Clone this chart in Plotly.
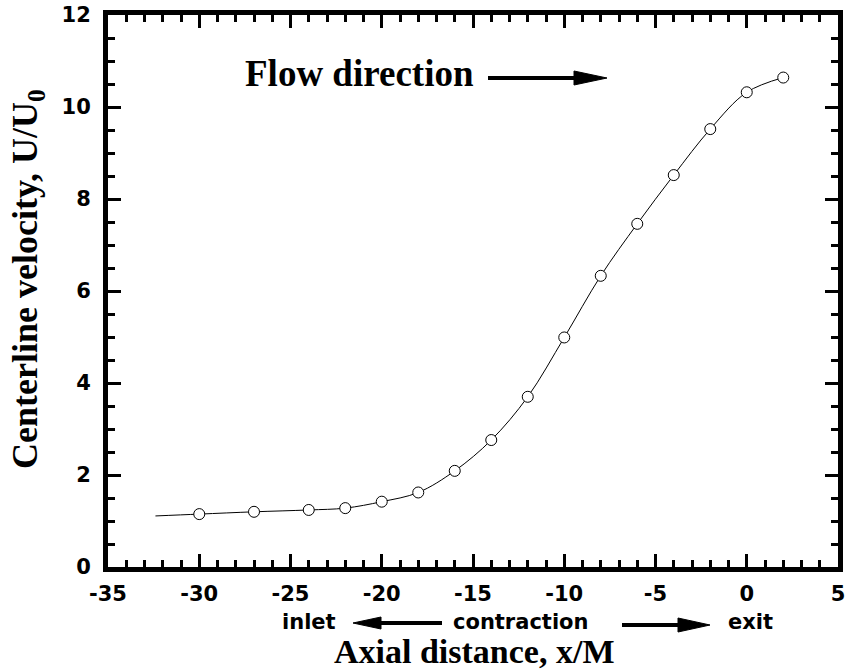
import plotly.graph_objects as go

# ---- data ----
x_meas = [-30, -27, -24, -22, -20, -18, -16, -14, -12, -10, -8, -6, -4, -2, 0, 2]
u_meas = [1.15, 1.20, 1.24, 1.28, 1.42, 1.62, 2.09, 2.76, 3.70, 4.99, 6.33, 7.46, 8.52, 9.52, 10.32, 10.64]
# smooth fitted curve (starts a little before the first measurement)
x_curve = [-32.4, -30, -27, -24, -22, -20, -18, -16, -14, -12, -10, -8, -6, -4, -2, 0, 2]
u_curve = [1.11, 1.15, 1.20, 1.24, 1.28, 1.42, 1.62, 2.09, 2.76, 3.70, 4.99, 6.33, 7.46, 8.52, 9.52, 10.32, 10.64]

x_ticks = [-35, -30, -25, -20, -15, -10, -5, 0, 5]
y_ticks = [0, 2, 4, 6, 8, 10, 12]

W, H = 850, 671
L, R, T, B = 108, 12, 15, 104
PW, PH = W - L - R, H - T - B


def px(xp):
    return (xp - L) / PW


def py(yp):
    return (H - B - yp) / PH


SANS = "DejaVu Sans, Liberation Sans, Arial, sans-serif"
SERIF = "Liberation Serif, Times New Roman, serif"

fig = go.Figure()
fig.add_trace(go.Scatter(x=x_curve, y=u_curve, mode="lines",
                         line=dict(color="black", width=1, shape="spline", smoothing=1.0),
                         hoverinfo="skip", showlegend=False))
fig.add_trace(go.Scatter(x=x_meas, y=u_meas, mode="markers",
                         marker=dict(symbol="circle", size=11, color="white",
                                     line=dict(color="black", width=1)),
                         showlegend=False))

axis_common = dict(showline=True, linewidth=5, linecolor="black", mirror="ticks",
                   ticks="inside", ticklen=13, tickwidth=3, tickcolor="black",
                   showgrid=False, zeroline=False, automargin=False,
                   tickfont=dict(family=SANS, size=21, color="black", weight="bold"))

fig.update_xaxes(range=[-35, 5], tickvals=x_ticks, ticktext=[str(v) for v in x_ticks],
                 minor=dict(ticks="inside", ticklen=7, tickwidth=3, dtick=1, tickcolor="black", showgrid=False),
                 ticklabelstandoff=4, **axis_common)
fig.update_yaxes(range=[0, 12], tickvals=y_ticks, ticktext=[str(v) for v in y_ticks],
                 minor=dict(ticks="inside", ticklen=7, tickwidth=3, dtick=0.5, tickcolor="black", showgrid=False),
                 ticklabelstandoff=8, **axis_common)

annotations = [
    dict(text="Flow direction", x=px(243), y=py(73), xanchor="left", yanchor="middle",
         font=dict(family=SERIF, size=37, color="black", weight="bold")),
    dict(text="Axial distance, x/M", x=px(474), y=py(651), xanchor="center", yanchor="middle",
         font=dict(family=SERIF, size=34, color="black", weight="bold")),
    dict(text="Centerline velocity, U/U<sub>0</sub>", x=px(27), y=py(279), xanchor="center", yanchor="middle",
         textangle=-90, font=dict(family=SERIF, size=36, color="black", weight="bold")),
    dict(text="inlet", x=px(309), y=py(622), xanchor="center", yanchor="middle",
         font=dict(family=SANS, size=21, color="black", weight="bold")),
    dict(text="contraction", x=px(520), y=py(622), xanchor="center", yanchor="middle",
         font=dict(family=SANS, size=21, color="black", weight="bold")),
    dict(text="exit", x=px(750), y=py(622), xanchor="center", yanchor="middle",
         font=dict(family=SANS, size=21, color="black", weight="bold")),
]
for a in annotations:
    a.update(xref="paper", yref="paper", showarrow=False)
fig.update_layout(annotations=annotations)


def arrow(x_tail, x_tip, y, head_len, half_h, lw=4):
    d = 1 if x_tip > x_tail else -1
    x_base = x_tip - d * head_len
    shapes = [
        dict(type="line", xref="paper", yref="paper", x0=px(x_tail), x1=px(x_base), y0=py(y), y1=py(y),
             line=dict(color="black", width=lw)),
        dict(type="path", xref="paper", yref="paper",
             path=f"M {px(x_base)},{py(y - half_h)} L {px(x_tip)},{py(y)} L {px(x_base)},{py(y + half_h)} Z",
             fillcolor="black", line=dict(color="black", width=1)),
    ]
    return shapes


shapes = []
shapes += arrow(488, 607, 78, 33, 7)
shapes += arrow(442, 353, 623, 28, 6)
shapes += arrow(622, 710, 625, 32, 7)
fig.update_layout(shapes=shapes)

fig.update_layout(width=W, height=H, margin=dict(l=L, r=R, t=T, b=B, autoexpand=False),
                  plot_bgcolor="white", paper_bgcolor="white")

fig.write_html("out.html", config={"displayModeBar": False},
               post_script="document.body.style.margin='0';document.body.style.overflow='hidden';")
